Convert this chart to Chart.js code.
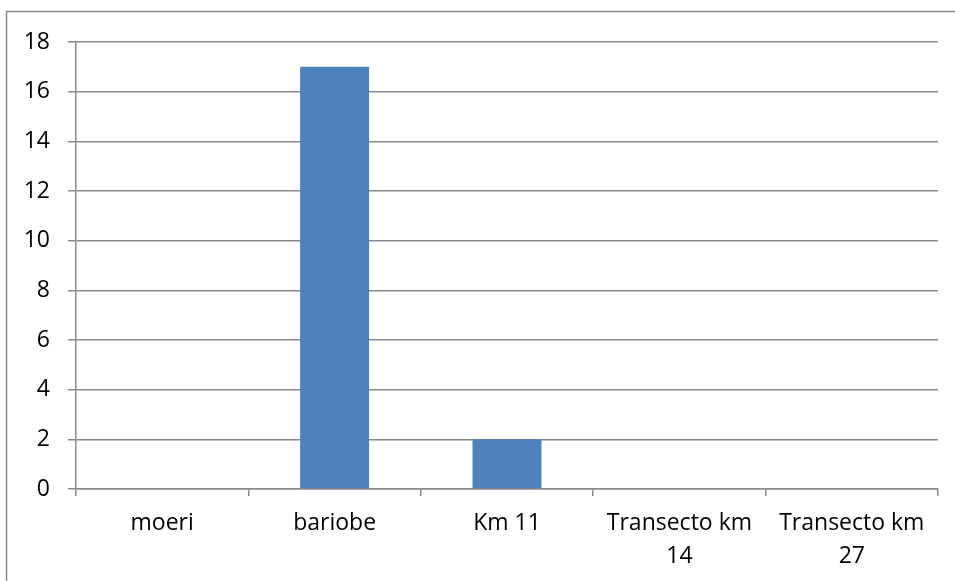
<!DOCTYPE html>
<html>
<head>
<meta charset="utf-8">
<script src="https://cdn.jsdelivr.net/npm/chart.js@4/dist/chart.umd.min.js"></script>
<style>
  html, body { margin: 0; padding: 0; background: #fff; }
  #wrap { position: relative; width: 955px; height: 581px; }
</style>
</head>
<body>
<div id="wrap"><canvas id="c" width="955" height="581"></canvas></div>
<script>
const categories = ["moeri", "bariobe", "Km 11", ["Transecto km", "14"], ["Transecto km", "27"]];
const values = [0, 17, 2, 0, 0];
const yMin = 0, yMax = 18, yStep = 2;

const borderPlugin = {
  id: 'outerBorder',
  beforeDraw(chart) {
    const ctx = chart.ctx;
    ctx.save();
    ctx.fillStyle = '#fff';
    ctx.fillRect(0, 0, chart.width, chart.height);
    ctx.strokeStyle = '#898989';
    ctx.lineWidth = 1.5;
    ctx.strokeRect(6.5, 11.5, 1000, 1000);
    ctx.restore();
  }
};

new Chart(document.getElementById('c'), {
  type: 'bar',
  data: {
    labels: categories,
    datasets: [{
      data: values,
      backgroundColor: '#4F81BD',
      borderWidth: 0,
      categoryPercentage: 1.0,
      barPercentage: 0.4
    }]
  },
  options: {
    responsive: false,
    animation: false,
    layout: { padding: { top: 42, right: 17, left: 0, bottom: 0 } },
    plugins: { legend: { display: false }, tooltip: { enabled: false } },
    scales: {
      x: {
        grid: { display: true, drawOnChartArea: false, drawTicks: true, tickLength: 7, color: '#898989', lineWidth: 1.5, offset: true },
        border: { display: true, color: '#898989', width: 1.5 },
        ticks: { color: '#000', font: { family: 'Open Sans', size: 23, lineHeight: 1.42 }, padding: 11, maxRotation: 0, autoSkip: false },
        afterFit(s) { s.height = 92; }
      },
      y: {
        min: yMin, max: yMax,
        grid: { color: '#898989', lineWidth: 1.5, drawTicks: true, tickLength: 8 },
        border: { display: true, color: '#898989', width: 1.5 },
        ticks: { stepSize: yStep, color: '#000', font: { family: 'Open Sans', size: 23 }, padding: 18 },
        afterFit(s) { s.width = 76; }
      }
    }
  },
  plugins: [borderPlugin]
});
</script>
</body>
</html>
